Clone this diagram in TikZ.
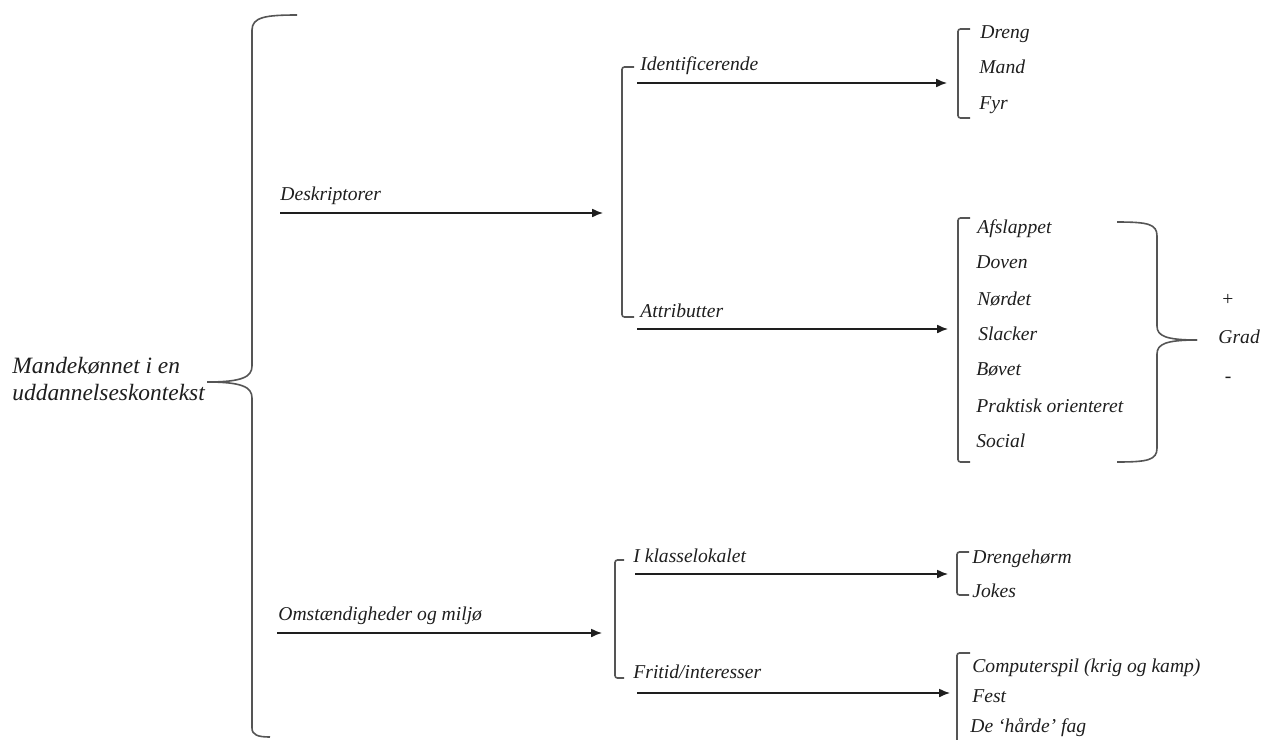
\documentclass[tikz,border=0pt]{standalone}
\usepackage{fontspec}
\setmainfont{Liberation Serif}
\usetikzlibrary{arrows.meta}

\definecolor{ink}{HTML}{1E1E1E}
\definecolor{rule}{HTML}{555555}

\begin{document}
\begin{tikzpicture}[x=0.5pt,y=-0.5pt,
  lbl/.style={font=\itshape\fontsize{9.8}{11}\selectfont, text=ink, inner sep=0pt,
              anchor=west, text height=1.5ex, text depth=0.25ex},
  rootlbl/.style={font=\itshape\fontsize{11.7}{13.5}\selectfont, text=ink, inner sep=0pt,
              anchor=west, align=left},
  sign/.style={font=\fontsize{9.8}{11}\selectfont, text=ink, inner sep=0pt},
  conn/.style={-{Latex[length=5.4pt,width=4.4pt]}, line width=0.7pt, draw=ink},
  brk/.style={draw=rule, line width=0.8pt, rounded corners=1.2pt},
  brc/.style={draw=rule, line width=0.8pt}]
\useasboundingbox (0,0) rectangle (1261,739);

% root label and its large brace
\node[rootlbl] (root) at (12,379) {Mandekønnet i en\\uddannelseskontekst};
\coordinate (tip) at (207,382);
\draw[brc] (297,15) .. controls (266,15) and (252,17) .. (252,30)
  -- (252,366) .. controls (252,377) and (242,382) .. (tip);
\draw[brc] (tip) .. controls (242,382) and (252,387) .. (252,398)
  -- (252,728) .. controls (252,735) and (258,737) .. (270,737);

% first branch: descriptors
\node[lbl] (desk) at (280,195) {Deskriptorer};
\coordinate (deskS) at (280,213);
\coordinate (deskE) at (603,213);
\draw[conn] (deskS) -- (deskE);

\draw[brk] (634,67) -- (622,67) -- (622,317) -- (634,317);
\node[lbl] (ident) at (640,65) {Identificerende};
\node[lbl] (attr) at (640,312) {Attributter};
\coordinate (identS) at (637,83);
\coordinate (identE) at (947,83);
\coordinate (attrS) at (637,329);
\coordinate (attrE) at (948,329);
\draw[conn] (identS) -- (identE);
\draw[conn] (attrS) -- (attrE);

% identifying words
\draw[brk] (970,29) -- (958,29) -- (958,118) -- (970,118);
\node[lbl] (dreng) at (980,33) {Dreng};
\node[lbl] (mand) at (979,68) {Mand};
\node[lbl] (fyr) at (979,104) {Fyr};

% attributes
\draw[brk] (970,218) -- (958,218) -- (958,462) -- (970,462);
\node[lbl] (afsl) at (977,228) {Afslappet};
\node[lbl] (doven) at (976,263) {Doven};
\node[lbl] (nord) at (977,300) {Nørdet};
\node[lbl] (slack) at (978,335) {Slacker};
\node[lbl] (bovet) at (976,370) {Bøvet};
\node[lbl] (prakt) at (976,407) {Praktisk orienteret};
\node[lbl] (social) at (976,442) {Social};

% degree brace
\coordinate (gtip) at (1197,340);
\draw[brc] (1117,222) .. controls (1148,222) and (1157,224) .. (1157,236)
  -- (1157,326) .. controls (1157,336) and (1166,340) .. (gtip);
\draw[brc] (gtip) .. controls (1166,340) and (1157,344) .. (1157,354)
  -- (1157,448) .. controls (1157,460) and (1148,462) .. (1117,462);
\node[sign] (plus) at (1228,300) {+};
\node[lbl] (grad) at (1218,338) {Grad};
\node[sign] (minus) at (1228,380) {-};

% second branch: circumstances
\node[lbl] (omst) at (278,615) {Omstændigheder og miljø};
\coordinate (omstS) at (277,633);
\coordinate (omstE) at (602,633);
\draw[conn] (omstS) -- (omstE);

\draw[brk] (624,560) -- (615,560) -- (615,678) -- (624,678);
\node[lbl] (klasse) at (633,557) {I klasselokalet};
\node[lbl] (fritid) at (633,673) {Fritid/interesser};
\coordinate (klasseS) at (635,574);
\coordinate (klasseE) at (948,574);
\coordinate (fritidS) at (637,693);
\coordinate (fritidE) at (950,693);
\draw[conn] (klasseS) -- (klasseE);
\draw[conn] (fritidS) -- (fritidE);

\draw[brk] (969,552) -- (957,552) -- (957,595) -- (969,595);
\node[lbl] (horm) at (972,558) {Drengehørm};
\node[lbl] (jokes) at (972,592) {Jokes};

\draw[brk] (970,653) -- (957,653) -- (957,745);
\node[lbl] (comp) at (972,667) {Computerspil (krig og kamp)};
\node[lbl] (fest) at (972,697) {Fest};
\node[lbl] (fag) at (970,727) {De ‘hårde’ fag};
\end{tikzpicture}
\end{document}
